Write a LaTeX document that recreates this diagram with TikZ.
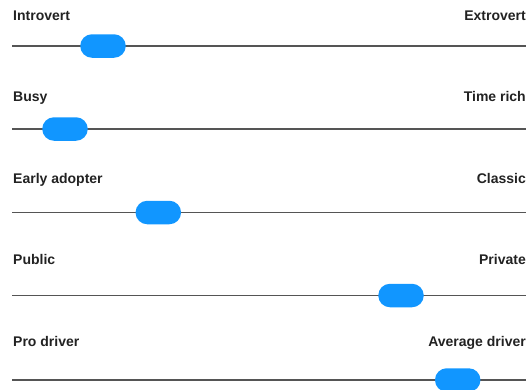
\documentclass[tikz,border=0pt]{standalone}
\usepackage{fontspec}
\setmainfont{Liberation Sans}
\definecolor{knob}{HTML}{1196FF}
\definecolor{track}{HTML}{555555}
\definecolor{lbl}{HTML}{222222}
\begin{document}
\begin{tikzpicture}[x=1pt,y=-1pt,
  track/.style={draw=track,line width=1.4pt},
  knobstyle/.style={fill=knob,draw=none,rounded corners=11.7pt,minimum width=45.5pt,minimum height=23.5pt,inner sep=0pt},
  lefttxt/.style={anchor=base west,inner sep=0pt,text=lbl,font=\fontsize{14}{16}\selectfont\bfseries},
  righttxt/.style={anchor=base east,inner sep=0pt,text=lbl,font=\fontsize{14}{16}\selectfont\bfseries}]
\useasboundingbox (0,0) rectangle (526,389);
\foreach \i/\y/\t/\k/\l/\r in {1/46/20/103/Introvert/Extrovert,2/129/101.5/65/Busy/Time rich,3/212.5/183/158.3/Early adopter/Classic,4/295.5/264.5/401/Public/Private,5/380/346/457.7/Pro driver/Average driver}{
  \coordinate (s\i) at (12,\y);
  \coordinate (e\i) at (526,\y);
  \draw[track] (s\i) -- (e\i);
  \node[knobstyle] (k\i) at (\k,\y) {};
  \node[lefttxt] (l\i) at (13,\t) {\l};
  \node[righttxt] (r\i) at (526,\t) {\r};
}
\end{tikzpicture}
\end{document}
